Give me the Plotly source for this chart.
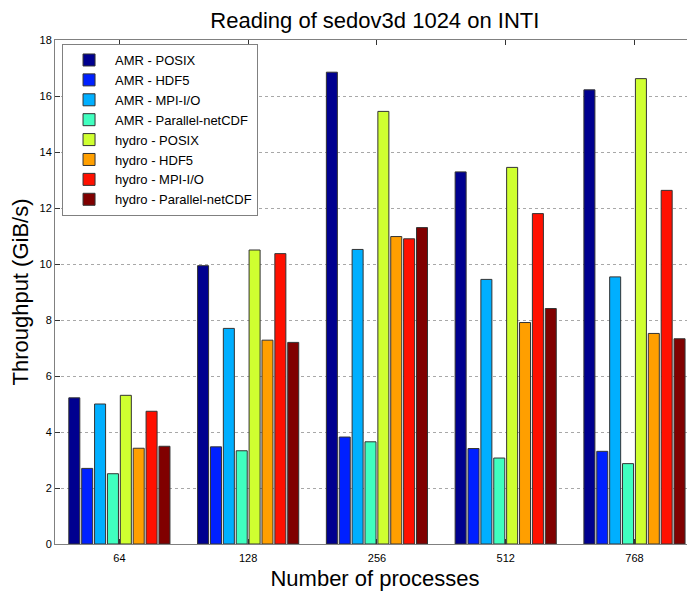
import plotly.graph_objects as go

categories = ["64", "128", "256", "512", "768"]

series_names = [
    "AMR - POSIX", "AMR - HDF5", "AMR - MPI-I/O", "AMR - Parallel-netCDF",
    "hydro - POSIX", "hydro - HDF5", "hydro - MPI-I/O", "hydro - Parallel-netCDF",
]

amr_posix = [5.22, 9.94, 16.85, 13.29, 16.22]
amr_hdf5 = [2.70, 3.47, 3.82, 3.41, 3.31]
amr_mpiio = [5.00, 7.70, 10.52, 9.45, 9.54]
amr_pnetcdf = [2.51, 3.33, 3.65, 3.07, 2.87]
hydro_posix = [5.31, 10.50, 15.45, 13.45, 16.62]
hydro_hdf5 = [3.42, 7.28, 10.98, 7.91, 7.52]
hydro_mpiio = [4.74, 10.37, 10.90, 11.80, 12.63]
hydro_pnetcdf = [3.49, 7.20, 11.30, 8.41, 7.33]

series_values = [amr_posix, amr_hdf5, amr_mpiio, amr_pnetcdf,
                 hydro_posix, hydro_hdf5, hydro_mpiio, hydro_pnetcdf]

colors = ["#00008F", "#0020FF", "#00AFFF", "#40FFBF",
          "#CFFF30", "#FF9F00", "#FF1000", "#800000"]

y_ticks = [0, 2, 4, 6, 8, 10, 12, 14, 16, 18]

FONT = "Liberation Sans, Arial, Helvetica, sans-serif"

fig = go.Figure()
for name, vals, col in zip(series_names, series_values, colors):
    fig.add_trace(go.Bar(
        x=categories, y=vals, name=name,
        marker=dict(color=col, line=dict(color="#333333", width=1)),
    ))

# the page body adds an 8px margin, so the figure is sized 687x585
fig.update_layout(
    width=687, height=585,
    margin=dict(l=47, r=0, t=32, b=49, autoexpand=False),
    paper_bgcolor="white", plot_bgcolor="white",
    barmode="group", bargap=0.20, bargroupgap=0.145,
    font=dict(family=FONT, color="black", size=11),
    title=dict(text="Reading of sedov3d 1024 on INTI", x=0.534, xanchor="center",
               y=0.979, yanchor="middle", yref="container",
               font=dict(size=22, family=FONT, color="black")),
    legend=dict(x=0.011, y=0.992, xanchor="left", yanchor="top",
                bgcolor="white", bordercolor="#808080", borderwidth=1,
                font=dict(size=13, family=FONT, color="black"),
                itemwidth=42, tracegroupgap=0),
    xaxis=dict(
        type="category", range=[-0.5, 4.47], automargin=False,
        showline=True, linecolor="#808080", linewidth=1, mirror="ticks",
        ticks="inside", ticklen=5, tickcolor="#333333",
        showgrid=False, tickfont=dict(size=11, family=FONT), ticklabelstandoff=4,
        title=dict(text="Number of processes", font=dict(size=22, family=FONT), standoff=7),
    ),
    yaxis=dict(
        range=[0, 18], tickvals=y_ticks, automargin=False,
        showline=True, linecolor="#808080", linewidth=1,
        ticks="inside", ticklen=5, tickcolor="#333333",
        showgrid=True, gridcolor="#a8a8a8", griddash="dot", gridwidth=1,
        zeroline=False, tickfont=dict(size=11, family=FONT),
        title=dict(text="Throughput (GiB/s)", font=dict(size=22, family=FONT), standoff=11),
    ),
)

fig.write_html("out.html")
